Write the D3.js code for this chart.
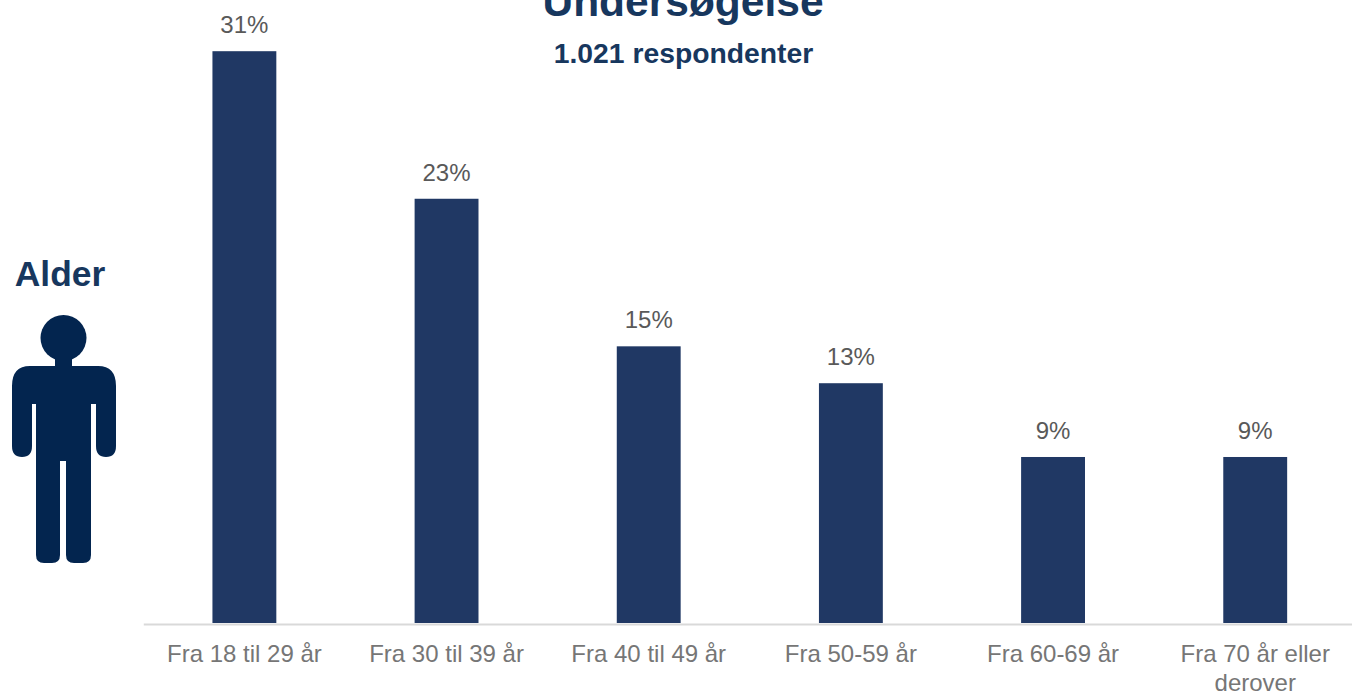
<!DOCTYPE html>
<html>
<head>
<meta charset="utf-8">
<script src="https://cdn.jsdelivr.net/npm/d3@7"></script>
<style>
    html, body { margin: 0; padding: 0; background: #fff; overflow: hidden; }
    text { font-family: "Liberation Sans", Arial, sans-serif; }
</style>
</head>
<body>
<svg id="chart"></svg>
<script>
var categories = ["Fra 18 til 29 år", "Fra 30 til 39 år", "Fra 40 til 49 år", "Fra 50-59 år", "Fra 60-69 år", "Fra 70 år eller derover"];
var values = [31, 23, 15, 13, 9, 9];

var width = 1352,
    height = 694,
    navy = "#203864",
    title_color = "#17375e",
    icon_color = "#03254f",
    baseline = 623,
    label_size = 24;

var svg = d3.select("svg#chart")
    .attr("width", width)
    .attr("height", height)
    .style("display", "block");

var x = d3.scaleBand()
    .domain(categories)
    .range([143.3, 1356.3])
    .paddingInner(0.684)
    .paddingOuter(0.342);

var y = d3.scaleLinear()
    .domain([0, 31])
    .range([baseline, 51.2]);

// bars
svg.selectAll("rect.bar")
    .data(values)
    .enter()
    .append("rect")
        .attr("class", "bar")
        .attr("x", function(d, i) { return x(categories[i]); })
        .attr("y", function(d) { return y(d); })
        .attr("width", x.bandwidth())
        .attr("height", function(d) { return baseline - y(d); })
        .attr("fill", navy);

// value labels
svg.selectAll("text.value")
    .data(values)
    .enter()
    .append("text")
        .attr("class", "value")
        .attr("x", function(d, i) { return x(categories[i]) + x.bandwidth() / 2; })
        .attr("y", function(d) { return y(d) - 18; })
        .attr("text-anchor", "middle")
        .style("font-size", label_size + "px")
        .style("fill", "#595959")
        .text(function(d) { return d + "%"; });

// axis, tick labels are wrapped by hand below
var axis = svg.append("g")
    .attr("transform", "translate(0," + (baseline + 1) + ")")
    .call(d3.axisBottom(x).tickSize(0).tickPadding(20).tickFormat(""));

axis.select("path.domain")
    .attr("stroke", "#d9d9d9")
    .attr("stroke-width", 2);

var wrapped = {"Fra 70 år eller derover": ["Fra 70 år eller", "derover"]};

axis.selectAll("g.tick").each(function(d) {
    var lines = wrapped[d] || [d];
    var t = d3.select(this).select("text")
        .attr("fill", "#767676")
        .attr("y", 0)
        .attr("dy", null)
        .style("font-size", label_size + "px");

    t.selectAll("tspan")
        .data(lines)
        .enter()
        .append("tspan")
            .attr("x", 0)
            .attr("y", function(l, i) { return 38 + i * 29; })
            .text(function(l) { return l; });
});

// titles
svg.append("text")
    .attr("x", 683)
    .attr("y", 16)
    .attr("text-anchor", "middle")
    .style("font-size", "42.5px")
    .style("font-weight", "bold")
    .style("fill", title_color)
    .text("Undersøgelse");

svg.append("text")
    .attr("x", 683.5)
    .attr("y", 63)
    .attr("text-anchor", "middle")
    .style("font-size", "28.3px")
    .style("font-weight", "bold")
    .style("fill", title_color)
    .text("1.021 respondenter");

svg.append("text")
    .attr("x", 60)
    .attr("y", 286)
    .attr("text-anchor", "middle")
    .style("font-size", "35.4px")
    .style("font-weight", "bold")
    .style("fill", title_color)
    .text("Alder");

// person icon
var person = svg.append("g").attr("fill", icon_color);

person.append("circle")
    .attr("cx", 63.5)
    .attr("cy", 338)
    .attr("r", 23);

person.append("path")
    .attr("d", "M55 355 H72 V366 H98 Q116 366 116 386 V446 Q116 457 106 457 Q96 457 96 446 V404 H91 V555 Q91 563 83 563 H74 Q66 563 66 555 V461 H60 V555 Q60 563 52 563 H44 Q36 563 36 555 V404 H32 V446 Q32 457 22 457 Q12 457 12 446 V386 Q12 366 30 366 H55 Z");
</script>
</body>
</html>
